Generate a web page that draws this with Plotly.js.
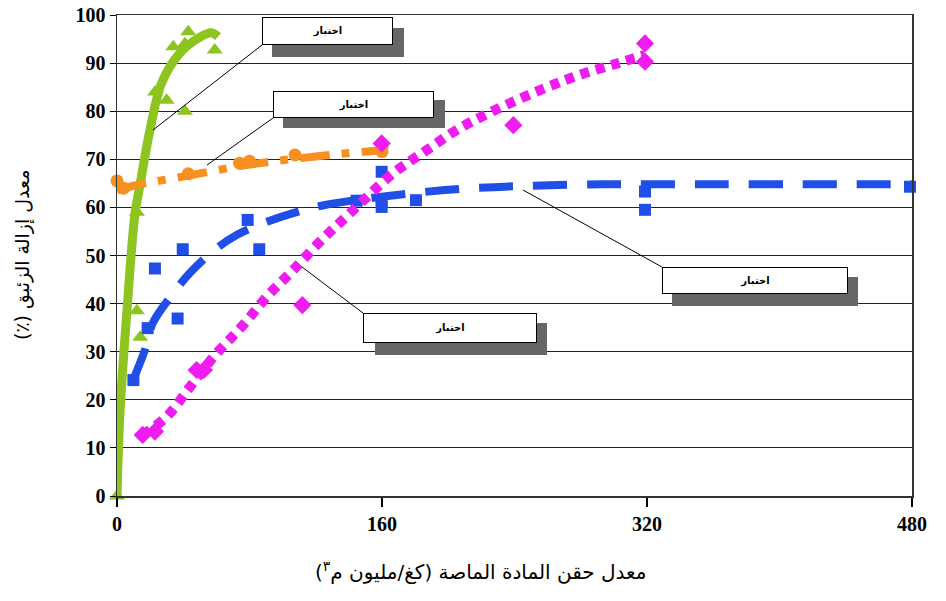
<!DOCTYPE html>
<html>
<head>
<meta charset="utf-8">
<script src="https://cdn.plot.ly/plotly-3.0.1.min.js"></script>
<style>html,body{margin:0;padding:0;background:#fff;}#chart{width:946px;height:601px;}</style>
</head>
<body>
<div id="chart"></div>
<script>
// ---- data ----
const xTickVals = [0, 160, 320, 480];
const xTickText = ["0", "160", "320", "480"];
const yTickVals = [0, 10, 20, 30, 40, 50, 60, 70, 80, 90, 100];

// green (triangles) measured points
const greenX = [0, 12, 14, 12, 23, 30, 41, 34, 41, 43, 59];
const greenY = [0, 38.5, 33, 59, 84, 82.3, 80, 93.4, 94, 96.5, 92.7];
// green trend line
const greenTrendX = [0, 1.8, 5.9, 10.9, 13.9, 19.9, 27, 38, 50.1, 57, 61];
const greenTrendY = [0, 17.3, 38, 58.8, 64.7, 76.1, 85.9, 92.1, 95.4, 96.3, 95.5];

// orange (circles)
const orangeX = [0, 4, 43, 74, 80, 107.5, 160, 160];
const orangeY = [65.5, 64, 67, 69.2, 69.6, 70.9, 71.6, 72.5];
const orangeTrendX = [0, 10, 43, 80, 120, 160];
const orangeTrendY = [63.5, 64.5, 66.6, 68.9, 70.6, 71.9];

// blue (squares)
const blueX = [9.9, 18.5, 22.9, 36.6, 39.7, 78.9, 85.9, 144.7, 159.8, 159.8, 159.8, 180.5, 318.8, 318.8, 478.8];
const blueY = [24.1, 34.9, 47.3, 36.9, 51.3, 57.4, 51.3, 61.4, 67.4, 61.5, 60.1, 61.5, 63.3, 59.5, 64.3];
const blueTrendX = [9.7, 16.9, 21.7, 33.2, 44.1, 58, 72.5, 90.6, 106.3, 125.6, 198, 272.3, 352, 480];
const blueTrendY = [24.1, 30.4, 36, 41.8, 46.4, 50.9, 54.3, 57, 58.8, 60.5, 63.6, 64.7, 64.8, 64.8];

// magenta (diamonds)
const magX = [15.5, 22.9, 48.1, 52.5, 111.9, 159.8, 239.3, 318.8, 318.8];
const magY = [12.7, 13.4, 26.2, 26.2, 39.7, 73.3, 77.1, 94.1, 90.3];
const magTrendX = [15.5, 30, 44.1, 59.2, 75.3, 90.4, 106.4, 122.6, 140.7, 166.8, 187, 205.1, 226.2, 258.4, 280.6, 302.7, 318.8];
const magTrendY = [12.7, 16.5, 22.7, 29.3, 35.2, 41.4, 47, 52.9, 58.8, 67.1, 71.9, 76.1, 79.9, 84.8, 87.7, 90, 91.7];

const labelText = "اختبار";
const xTitle = "\u200Fمعدل حقن المادة الماصة (كغ/مليون م<sup>٣</sup>)\u200F";
const yTitle = "\u200Fمعدل إزالة الزئبق (٪)\u200F";

// ---- layout geometry helpers ----
const L = 117, R = 912, T = 15, B = 496, W = 946, H = 601;
const XMAX = 480, YMAX = 100;
function dx(px) { return (px - L) / (R - L) * XMAX; }
function dy(py) { return (B - py) / (B - T) * YMAX; }
function px2paperX(px) { return (px - L) / (R - L); }
function py2paperY(py) { return (B - py) / (B - T); }

// callout boxes: [left, top, right, bottom], shadow rect, leader line
const boxes = [
  {b: [262, 17, 393, 45], s: [272, 28, 404, 57], line: [262, 45, 153, 130]},
  {b: [273, 91, 434, 118], s: [283, 100, 445, 128], line: [273, 118, 207, 165]},
  {b: [363, 313, 537, 343], s: [375, 323, 547, 355], line: [363, 313, 302, 267]},
  {b: [662, 267, 848, 294], s: [672, 277, 858, 306], line: [662, 267, 523, 190]}
];

const green = '#8dc41f', orange = '#f7901e', blue = '#1f4fe6', magenta = '#ee1cee';

const traces = [
  {x: greenTrendX, y: greenTrendY, mode: 'lines', line: {color: green, width: 9, shape: 'spline'}, hoverinfo: 'skip'},
  {x: greenX, y: greenY, mode: 'markers', marker: {symbol: 'triangle-up', size: 14, color: green}, cliponaxis: false},
  {x: orangeTrendX, y: orangeTrendY, mode: 'lines', line: {color: orange, width: 8, dash: '30px,12px,8px,12px', shape: 'spline'}, hoverinfo: 'skip'},
  {x: orangeX, y: orangeY, mode: 'markers', marker: {symbol: 'circle', size: 13, color: orange}, cliponaxis: false},
  {x: blueTrendX, y: blueTrendY, mode: 'lines', line: {color: blue, width: 8, dash: '34px,20px', shape: 'spline'}, hoverinfo: 'skip'},
  {x: blueX, y: blueY, mode: 'markers', marker: {symbol: 'square', size: 12, color: blue}, cliponaxis: false},
  {x: magTrendX, y: magTrendY, mode: 'lines', line: {color: magenta, width: 10, dash: '9px,7px', shape: 'spline'}, hoverinfo: 'skip'},
  {x: magX, y: magY, mode: 'markers', marker: {symbol: 'diamond', size: 14, color: magenta}, cliponaxis: false}
];

const annotations = [];
const shapes = [];
boxes.forEach(bx => {
  const s = bx.s, ln = bx.line;
  shapes.push({type: 'line', xref: 'x', yref: 'y', x0: dx(ln[0]), y0: dy(ln[1]), x1: dx(ln[2]), y1: dy(ln[3]),
    line: {color: '#000', width: 1}});
  shapes.push({type: 'rect', xref: 'x', yref: 'y', x0: dx(s[0]), y0: dy(s[3]), x1: dx(s[2]), y1: dy(s[1]),
    fillcolor: '#666666', line: {width: 0}});
});
boxes.forEach(bx => {
  const b = bx.b;
  annotations.push({
    xref: 'x', yref: 'y', x: dx((b[0] + b[2]) / 2), y: dy((b[1] + b[3]) / 2),
    xanchor: 'center', yanchor: 'middle', showarrow: false, text: '<b>' + labelText + '</b>',
    font: {family: 'DejaVu Sans', size: 10, color: '#000'},
    width: b[2] - b[0] - 2, height: b[3] - b[1] - 2, bgcolor: '#ffffff', bordercolor: '#000', borderwidth: 1, borderpad: 0
  });
});
// axis titles
annotations.push({
  xref: 'paper', yref: 'paper', x: px2paperX(480), y: py2paperY(571), xanchor: 'center', yanchor: 'middle',
  showarrow: false, text: xTitle, font: {family: 'DejaVu Sans', size: 20, color: '#000'}
});
annotations.push({
  xref: 'paper', yref: 'paper', x: px2paperX(23), y: py2paperY(255), xanchor: 'center', yanchor: 'middle',
  showarrow: false, textangle: -90, text: yTitle, font: {family: 'DejaVu Sans', size: 19, color: '#000'}
});

const layout = {
  width: W, height: H,
  margin: {l: L, r: W - R, t: T, b: H - B},
  paper_bgcolor: '#fff', plot_bgcolor: '#fff',
  showlegend: false,
  xaxis: {
    range: [0, XMAX], tickvals: xTickVals, ticktext: xTickText,
    ticks: 'outside', ticklen: 9, tickwidth: 1.5, tickcolor: '#000',
    showline: true, linecolor: '#333', linewidth: 1.5, mirror: true,
    showgrid: false, zeroline: false,
    tickfont: {family: 'Liberation Serif', size: 20, color: '#000', weight: 'bold'}
  },
  yaxis: {
    range: [0, YMAX], tickvals: yTickVals,
    ticks: 'outside', ticklen: 6, tickwidth: 1, tickcolor: '#000',
    showline: true, linecolor: '#333', linewidth: 1.5, mirror: true,
    showgrid: true, gridcolor: '#222', gridwidth: 1, zeroline: false,
    tickfont: {family: 'Liberation Serif', size: 20, color: '#000', weight: 'bold'}
  },
  annotations: annotations,
  shapes: shapes
};

Plotly.newPlot('chart', traces, layout, {staticPlot: true, displayModeBar: false});
</script>
</body>
</html>
